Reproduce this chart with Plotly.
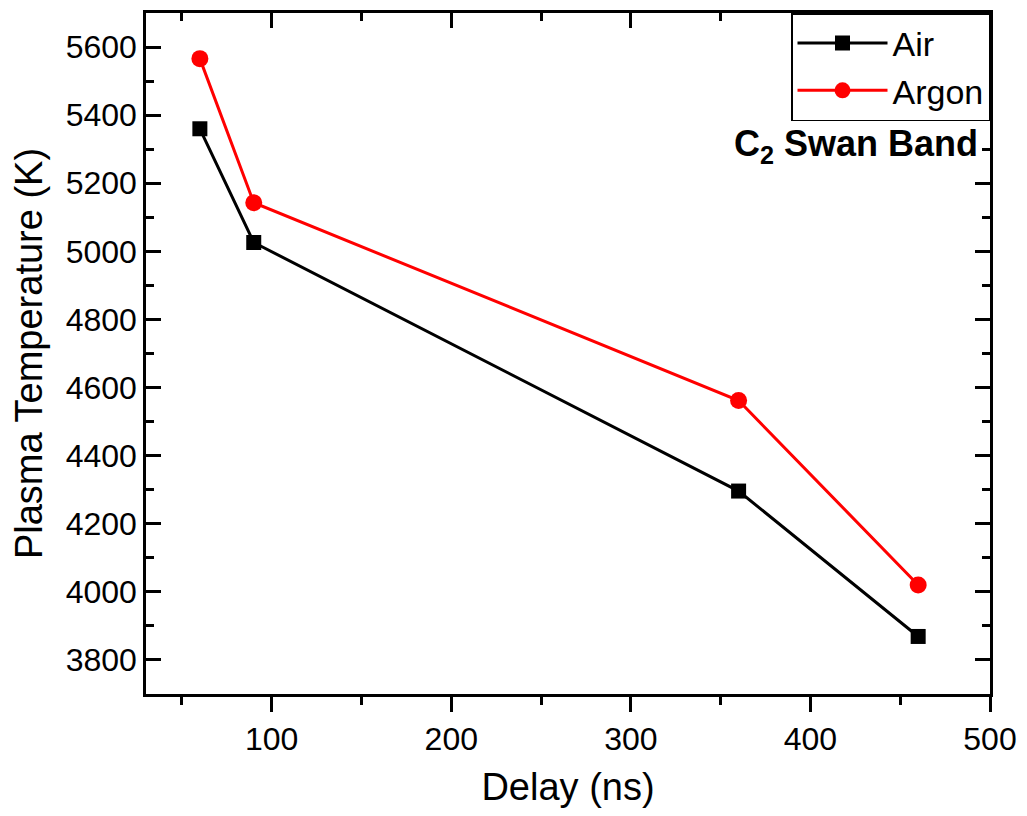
import plotly.graph_objects as go

# Delay times (ns) and plasma temperatures (K)
delay_ns = [60, 90, 360, 460]
temp_air = [5360, 5026, 4296, 3869]
temp_argon = [5566, 5143, 4562, 4020]

x_ticks = [100, 200, 300, 400, 500]
y_ticks = [3800, 4000, 4200, 4400, 4600, 4800, 5000, 5200, 5400, 5600]

FONT = "Arial, Liberation Sans, sans-serif"

fig = go.Figure()
fig.add_trace(go.Scatter(
    x=delay_ns, y=temp_air, name="Air", mode="lines+markers",
    line=dict(color="black", width=3),
    marker=dict(symbol="square", size=15, color="black"),
))
fig.add_trace(go.Scatter(
    x=delay_ns, y=temp_argon, name="Argon", mode="lines+markers",
    line=dict(color="#ff0000", width=3),
    marker=dict(symbol="circle", size=17, color="#ff0000"),
))
# carrier for the top axis (inward ticks)
fig.add_trace(go.Scatter(
    x=[delay_ns[0]], y=[temp_air[0]], xaxis="x2", mode="markers",
    marker=dict(opacity=0), showlegend=False, hoverinfo="skip",
))

axis_common = dict(
    showgrid=False, zeroline=False, showline=True, linecolor="black",
    linewidth=2.5, tickcolor="black", tickwidth=2.5,
    tickfont=dict(family=FONT, size=32, color="black"),
)

fig.update_layout(
    width=1027, height=816,
    margin=dict(l=146, r=31, t=10, b=122),
    plot_bgcolor="white", paper_bgcolor="white",
    xaxis=dict(
        **axis_common, range=[30, 500], tickvals=x_ticks,
        ticks="outside", ticklen=15, mirror=True,
        minor=dict(dtick=50, tick0=0, ticks="outside", ticklen=8,
                   tickwidth=2.5, tickcolor="black"),
        title=dict(text="Delay (ns)", font=dict(family=FONT, size=38, color="black"),
                   standoff=18),
    ),
    xaxis2=dict(
        overlaying="x", side="top", matches="x", range=[30, 500],
        showgrid=False, zeroline=False, showline=False, showticklabels=False,
        tickvals=x_ticks, ticks="inside", ticklen=15, tickwidth=2.5, tickcolor="black",
        minor=dict(dtick=50, tick0=0, ticks="inside", ticklen=8,
                   tickwidth=2.5, tickcolor="black"),
    ),
    yaxis=dict(
        **axis_common, range=[3700, 5700], tickvals=y_ticks,
        ticks="inside", ticklen=15, mirror="ticks",
        minor=dict(dtick=100, tick0=0, ticks="inside", ticklen=8,
                   tickwidth=2.5, tickcolor="black"),
        title=dict(text="Plasma Temperature (K)",
                   font=dict(family=FONT, size=38, color="black"), standoff=12),
    ),
    legend=dict(
        x=1, y=1, xanchor="right", yanchor="top",
        bordercolor="black", borderwidth=1.5, bgcolor="white",
        font=dict(family=FONT, size=34, color="black"),
        itemwidth=90, tracegroupgap=0,
    ),
    showlegend=True,
)

fig.add_annotation(
    text="<b>C<sub>2</sub> Swan Band</b>", xref="paper", yref="paper",
    x=0.988, y=0.805, xanchor="right", yanchor="middle", showarrow=False,
    font=dict(family=FONT, size=36, color="black"),
)

fig.write_html("out.html")
